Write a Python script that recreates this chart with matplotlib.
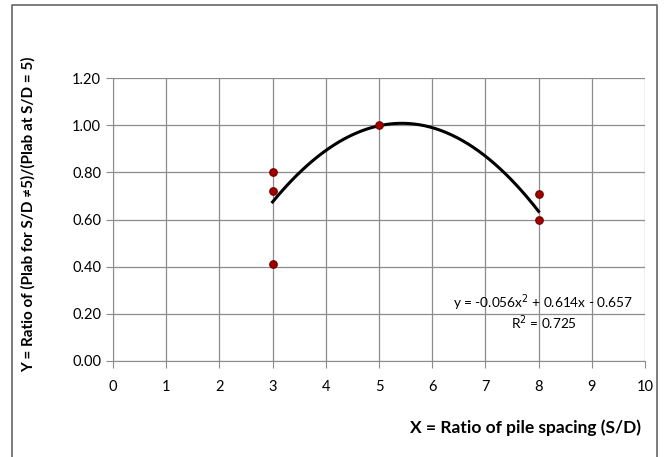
import numpy as np
import matplotlib.pyplot as plt

# measured points
x_pts = [3, 3, 3, 5, 8, 8]
y_pts = [0.80, 0.72, 0.41, 1.00, 0.71, 0.60]

# trendline coefficients (2nd order polynomial)
coef = [-0.0565, 0.6135, -0.6575]
eq_text = "y = -0.056x$^2$ + 0.614x - 0.657"
r2_text = "R$^2$ = 0.725"

x_ticks = list(range(0, 11))
y_ticks = [0.0, 0.2, 0.4, 0.6, 0.8, 1.0, 1.2]

plt.rcParams['font.family'] = ['Lato', 'DejaVu Sans']

fig = plt.figure(figsize=(6.68, 4.57), dpi=100)
ax = fig.add_axes([113/668, 1-361/457, (645-113)/668, (361-78)/457])

# outer frame of the chart (bottom edge runs off the image)
W, H = 668, 457
fx = [12/W, 12/W, 657/W, 657/W]
fy = [0, 1-5/H, 1-5/H, 0]
fig.add_artist(plt.Line2D(fx, fy, transform=fig.transFigure,
                          color='#666666', lw=1.2))

xs = np.linspace(3, 8, 200)
ax.plot(xs, np.polyval(coef, xs), color='black', lw=2.2, zorder=3)
ax.scatter(x_pts, y_pts, s=28, color='#A00000', edgecolor='#7a0000', zorder=4)

ax.set_xlim(0, 10)
ax.set_ylim(0, 1.2)
ax.set_xticks(x_ticks)
ax.set_yticks(y_ticks)
ax.set_yticklabels([f"{v:.2f}" for v in y_ticks])
ax.grid(True, color='#8c8c8c', lw=0.9)
ax.set_axisbelow(True)
for s in ['top', 'right']:
    ax.spines[s].set_visible(False)
ax.spines['left'].set_color('#8c8c8c')
ax.spines['bottom'].set_color('#8c8c8c')
ax.tick_params(axis='both', labelsize=10.5, color='#8c8c8c', length=5)
ax.tick_params(axis='x', pad=9)

ax.text(8.08, 0.246, eq_text, ha='center', va='center', fontsize=9.8)
ax.text(8.1, 0.161, r2_text, ha='center', va='center', fontsize=9.8)

fig.text(526/668, 1-428/457, "X = Ratio of pile spacing (S/D)", ha='center',
         va='center', fontsize=12.5, fontweight='bold')
fig.text(28/668, 1-214/457, "Y = Ratio of (Plab for S/D \u22605)/(Plab at S/D = 5)",
         ha='center', va='center', rotation=90, fontsize=11, fontweight='bold')

fig.savefig('out.png', dpi=100)
